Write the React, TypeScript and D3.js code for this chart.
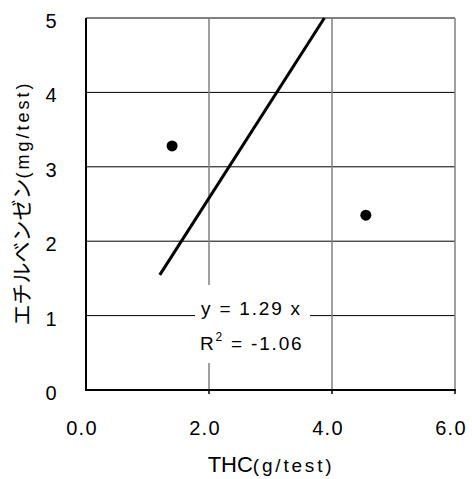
import React from "react";
import * as d3 from "d3";

const xTicks = [0, 2, 4, 6];
const yTicks = [0, 1, 2, 3, 4, 5];
const xTickLabels = ["0.0", "2.0", "4.0", "6.0"];
const pointsX = [1.4, 4.55];
const pointsY = [3.28, 2.35];
const slope = 1.29;
const fitXRange = [1.2, 5 / 1.29];
const eqLine1 = "y = 1.29 x";
const r2Value = "= -1.06";

export default function App() {
  const W = 472, H = 479;
  const left = 86, right = 455, top = 18, bottom = 390;
  const x = d3.scaleLinear().domain([0, 6]).range([left, right]);
  const y = d3.scaleLinear().domain([0, 5]).range([bottom, top]);
  const fitPts: [number, number][] = fitXRange.map((v) => [v, slope * v]);
  const line = d3.line<[number, number]>().x((d) => x(d[0])).y((d) => y(d[1]));
  const font = "'Liberation Sans', Arial, sans-serif";
  return (
    <svg width={W} height={H} style={{ position: "absolute", left: 0, top: 0 }}>
      <rect x={0} y={0} width={W} height={H} fill="#fff" />
      {yTicks.filter((t) => t > 0).map((t) => (
        <line key={"h" + t} x1={left} x2={right} y1={y(t)} y2={y(t)} stroke="#000" strokeWidth={1} />
      ))}
      {xTicks.filter((t) => t > 0).map((t) => (
        <line key={"v" + t} x1={x(t)} x2={x(t)} y1={top} y2={bottom} stroke="#808080" strokeWidth={1.5} />
      ))}
      <line x1={left} x2={left} y1={top} y2={bottom + 1} stroke="#000" strokeWidth={2} />
      <line x1={left - 1} x2={right + 1} y1={bottom} y2={bottom} stroke="#000" strokeWidth={2} />
      {xTicks.filter((t) => t > 0).map((t) => (
        <line key={"xt" + t} x1={x(t)} x2={x(t)} y1={bottom} y2={bottom + 4} stroke="#000" strokeWidth={1.5} />
      ))}
      <path d={line(fitPts) || ""} fill="none" stroke="#000" strokeWidth={3} />
      {pointsX.map((v, i) => (
        <circle key={"p" + i} cx={x(v)} cy={y(pointsY[i])} r={5.5} fill="#000" />
      ))}
      <rect x={195} y={285} width={115} height={78} fill="#fff" />
      <text x={201} y={315} fontFamily={font} fontSize={19} letterSpacing={1.8} fill="#000">{eqLine1}</text>
      <text x={200} y={350} fontFamily={font} fontSize={19} letterSpacing={1.8} fill="#000">
        R<tspan fontSize={12} dy={-9}>2</tspan><tspan dy={9}> {r2Value}</tspan>
      </text>
      {yTicks.map((t) => (
        <text key={"yl" + t} x={51} y={y(t) + 10} textAnchor="middle" fontFamily={font} fontSize={20} fill="#000">{t}</text>
      ))}
      {xTicks.map((t, i) => (
        <text key={"xl" + t} x={x(t) - 4} y={435} textAnchor="middle" fontFamily={font} fontSize={20} letterSpacing={1.2} fill="#000">{xTickLabels[i]}</text>
      ))}
      <text x={271} y={472} textAnchor="middle" fontFamily={font} fontSize={22} fill="#000">
        THC<tspan fontSize={19} letterSpacing={2.8}>(g/test)</tspan>
      </text>
      <text transform="translate(29,203) rotate(-90)" textAnchor="middle" fontFamily={font} fontSize={18} fill="#000">
        <tspan fontFamily="'Noto Sans CJK JP', sans-serif" fontSize={21}>エチルベンゼン</tspan>
        <tspan fontSize={18} letterSpacing={3}>(mg/test)</tspan>
      </text>
    </svg>
  );
}
